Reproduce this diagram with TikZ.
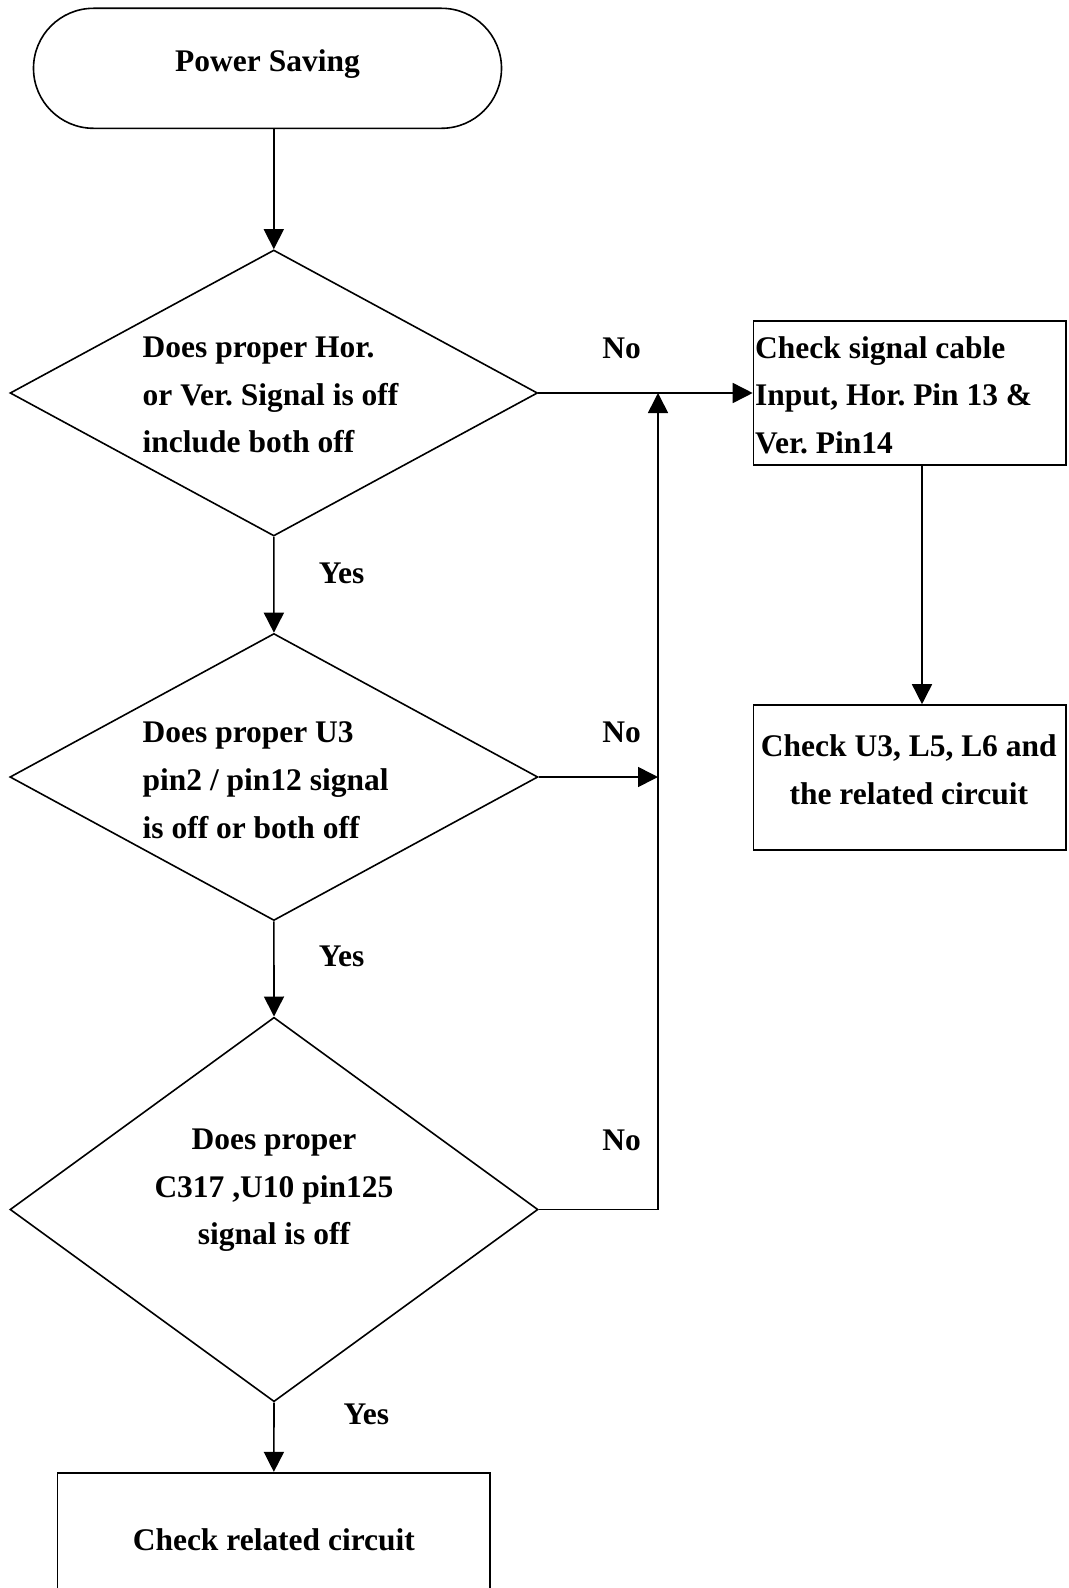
\documentclass[tikz,border=0pt]{standalone}
\usepackage{fontspec}
\setmainfont{Liberation Serif}
\usetikzlibrary{arrows.meta,shapes.geometric,shapes.misc}
\frenchspacing

\begin{document}
\begin{tikzpicture}[x=1bp,y=-1bp,
  every node/.style={font=\fontsize{31.6}{47.7}\selectfont\bfseries\frenchspacing},
  ln/.style={line width=1.6bp},
  arr/.style={line width=1.6bp,-{Triangle[length=20bp,width=20bp]}},
  terminal/.style={rounded rectangle,draw,line width=1.6bp,inner sep=0pt,
    minimum width=468bp,minimum height=120bp},
  decision/.style={diamond,draw,line width=1.6bp,inner sep=0pt},
  stepbox/.style={rectangle,draw,line width=1.6bp,inner sep=0pt},
  txt/.style={inner sep=0pt},
  lbl/.style={anchor=base,inner sep=0pt}]

\useasboundingbox (0,0) rectangle (1068,1588);
\clip (0,0) rectangle (1068,1588);

% start
\node[terminal,text height=20bp,text depth=13.2bp] (start) at (267.5,68.3) {Power Saving};

% decisions (outlines) and their questions
\node[decision,minimum width=527.5bp,minimum height=286bp] (d1) at (273.8,393) {};
\node[decision,minimum width=528bp,minimum height=287bp] (d2) at (273.9,777) {};
\node[decision,minimum width=528bp,minimum height=384.4bp] (d3) at (274,1209.5) {};

\node[txt,anchor=west,align=left] (q1) at (142.5,395.3)
  {Does proper Hor.\\or Ver. Signal is off\\include both off};
\node[txt,anchor=west,align=left] (q2) at (142.5,780.2)
  {Does proper U3\\pin2 / pin12 signal\\is off or both off};
\node[txt,align=center] (q3) at (273.9,1190.3)
  {Does proper\\C317 ,U10 pin125\\signal is off};

% actions
\node[stepbox,minimum width=312.5bp,minimum height=144bp] (box1) at (909.75,393) {};
\node[txt,anchor=west,align=left] (b1t) at (755,395.2)
  {Check signal cable\\Input, Hor. Pin 13 \&\\Ver. Pin14};
\node[stepbox,minimum width=312.5bp,minimum height=145bp] (box2) at (909.75,777.5) {};
\node[txt,align=center] (b2t) at (908.8,769.9)
  {Check U3, L5, L6 and\\the related circuit};
\node[stepbox,minimum width=432.3bp,minimum height=133.3bp,
      text height=21.3bp,text depth=0bp] (box3) at (273.85,1539.35)
  {Check related circuit};

% branch labels
\node[lbl] (no1) at (621.7,358.3) {No};
\node[lbl] (no2) at (621.7,742.3) {No};
\node[lbl] (no3) at (621.7,1150) {No};
\node[lbl] (yes1) at (341.5,583.3) {Yes};
\node[lbl] (yes2) at (341.5,966.7) {Yes};
\node[lbl] (yes3) at (366.3,1424.3) {Yes};

% connector columns
\coordinate (fb) at (658,0);
\coordinate (b12) at (922,0);

% main flow
\draw[arr] (start.south -| d1.north) -- (d1.north);
\draw[arr] (d1.south) -- (d2.north);
\draw[arr] (d2.south) -- (d3.north);
\draw[arr] (d3.south) -- (box3.north);

% "No" branches
\draw[arr] (d1.east) -- (box1.west);
\draw[arr] (d2.east) -- (d2.east -| fb);
\draw[arr] (d3.east) -- (d3.east -| fb) -- (d1.east -| fb);
\draw[arr] (box1.south -| b12) -- (box2.north -| b12);
\end{tikzpicture}
\end{document}
